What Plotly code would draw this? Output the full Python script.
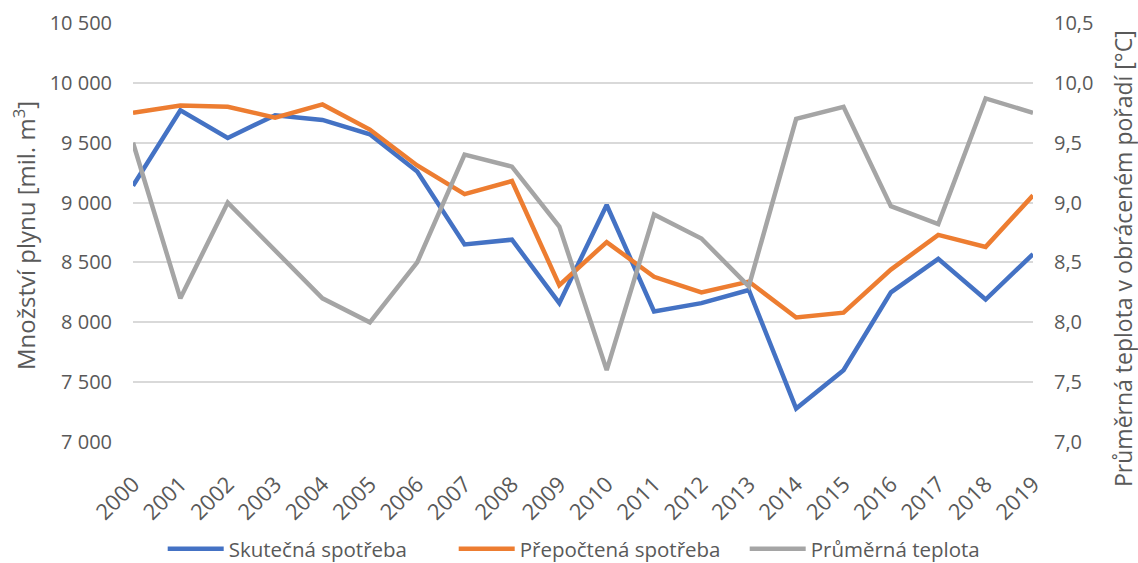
import plotly.graph_objects as go

years = [str(y) for y in range(2000, 2020)]
skutecna = [9140, 9770, 9540, 9730, 9690, 9570, 9260, 8650, 8690, 8160,
            8980, 8090, 8160, 8270, 7280, 7600, 8250, 8530, 8190, 8570]
prepoctena = [9750, 9810, 9800, 9710, 9820, 9610, 9310, 9070, 9180, 8310,
              8670, 8380, 8250, 8340, 8040, 8080, 8440, 8730, 8630, 9060]
teplota = [9.5, 8.2, 9.0, 8.6, 8.2, 8.0, 8.5, 9.4, 9.3, 8.8,
           7.6, 8.9, 8.7, 8.3, 9.7, 9.8, 8.97, 8.82, 9.87, 9.75]
left_ticks = [7000, 7500, 8000, 8500, 9000, 9500, 10000, 10500]
right_ticks = [7.0, 7.5, 8.0, 8.5, 9.0, 9.5, 10.0, 10.5]
left_title = "Množství plynu [mil. m<sup>3</sup>]"
right_title = "Průměrná teplota v obráceném pořadí [°C]"

txt = "#595959"
fig = go.Figure()
fig.add_trace(go.Scatter(x=years, y=skutecna, name="Skutečná spotřeba", mode="lines",
                         line=dict(color="#4472C4", width=4.5)))
fig.add_trace(go.Scatter(x=years, y=prepoctena, name="Přepočtená spotřeba", mode="lines",
                         line=dict(color="#ED7D31", width=4.5)))
fig.add_trace(go.Scatter(x=years, y=teplota, name="Průměrná teplota", mode="lines",
                         line=dict(color="#A5A5A5", width=4.5), yaxis="y2"))

fig.add_annotation(text=left_title, xref="paper", yref="paper", x=-0.1211, y=0.4916,
                   xanchor="center", yanchor="middle", textangle=-90, showarrow=False,
                   font=dict(size=24, color=txt))
fig.add_annotation(text=right_title, xref="paper", yref="paper", x=1.1, y=0.4368,
                   xanchor="center", yanchor="middle", textangle=-90, showarrow=False,
                   font=dict(size=23, color=txt))

fig.update_layout(
    width=1138, height=563,
    margin=dict(l=133, r=105, t=23, b=121, autoexpand=False),
    paper_bgcolor="white", plot_bgcolor="white",
    separators=", ",
    font=dict(family="Open Sans", color=txt, size=20),
    xaxis=dict(type="category", range=[0, 19], tickangle=-45, showgrid=False,
               showline=False, ticks="", automargin=False, ticklabelstandoff=24,
               tickfont=dict(size=22, color=txt)),
    yaxis=dict(range=[7000, 10500], tickvals=left_ticks, tickformat=",d",
               showgrid=True, gridcolor="#D9D9D9", gridwidth=1.5, zeroline=False,
               automargin=False, ticklabelstandoff=20,
               tickfont=dict(size=20, color=txt), ticks=""),
    yaxis2=dict(range=[7.0, 10.5], tickvals=right_ticks, tickformat=".1f",
                overlaying="y", side="right", showgrid=False, zeroline=False,
                automargin=False, ticklabelstandoff=20,
                tickfont=dict(size=20, color=txt)),
    legend=dict(orientation="h", x=0.033, xanchor="left", y=-0.2554, yanchor="middle",
                font=dict(size=20.5, color=txt), itemwidth=56, tracegroupgap=0,
                entrywidth=220, entrywidthmode="pixels"),
    showlegend=True,
)

fig.write_html("out.html", config={"displayModeBar": False},
               post_script="document.body.style.margin='0';document.body.style.overflow='hidden';")
